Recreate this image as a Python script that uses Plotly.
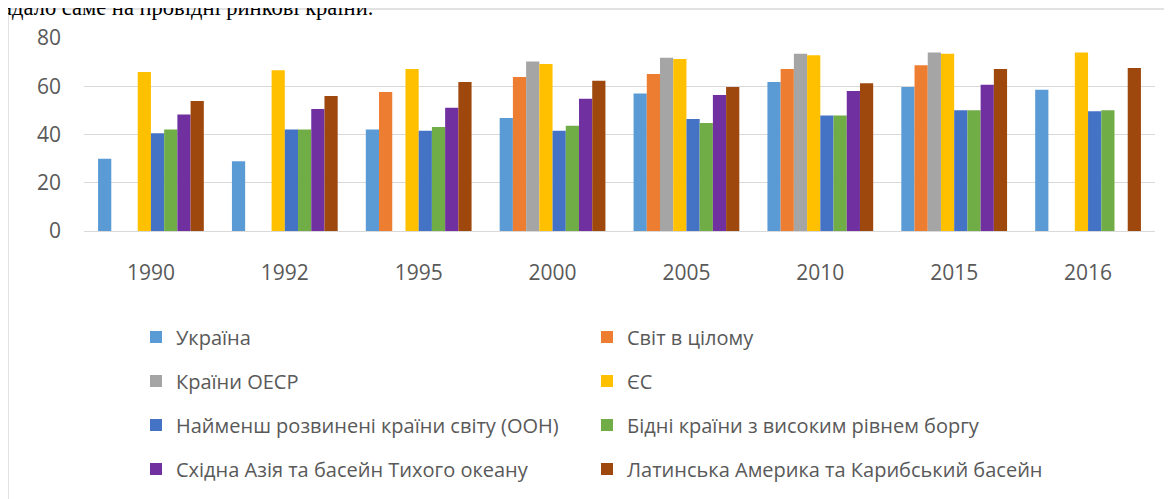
import plotly.graph_objects as go

years = ["1990", "1992", "1995", "2000", "2005", "2010", "2015", "2016"]

ukraine = [30.0, 28.9, 42.1, 46.8, 57.0, 61.8, 59.7, 58.6]
world = [None, None, 57.6, 63.8, 65.1, 67.1, 68.7, None]
oecd = [None, None, None, 70.3, 71.8, 73.5, 74.0, None]
eu = [65.9, 66.6, 67.1, 69.2, 71.3, 72.9, 73.5, 74.0]
ldc = [40.5, 42.1, 41.6, 41.6, 46.4, 47.9, 50.1, 49.6]
hipc = [42.1, 42.1, 43.1, 43.6, 44.8, 47.9, 50.1, 50.1]
east_asia = [48.3, 50.6, 51.1, 54.8, 56.4, 58.0, 60.6, None]
latam = [53.9, 56.0, 61.8, 62.3, 59.7, 61.2, 67.1, 67.6]

series_names = [
    "Україна",
    "Світ в цілому",
    "Країни ОЕСР",
    "ЄС",
    "Найменш розвинені країни світу (ООН)",
    "Бідні країни з високим рівнем боргу",
    "Східна Азія та басейн Тихого океану",
    "Латинська Америка та Карибський басейн",
]
series_values = [ukraine, world, oecd, eu, ldc, hipc, east_asia, latam]
colors = ["#5B9BD5", "#ED7D31", "#A5A5A5", "#FFC000",
          "#4472C4", "#70AD47", "#7030A0", "#9E480E"]

# the page body adds an 8px margin, so layout is set in page pixels minus 8
OFF = 8
W, H = 1172, 499
plot_left, plot_right, plot_top, plot_bottom = 84, 1155, 38, 231
L = plot_left - OFF
T = plot_top - OFF
R = W - (plot_right - OFF)
B = H - (plot_bottom - OFF)
pw = plot_right - plot_left
ph = plot_bottom - plot_top


def px_x(vx):
    return (vx - plot_left) / pw


def px_y(vy):
    return 1 - (vy - plot_top) / ph


legend_ids = ["legend" if i == 0 else f"legend{i + 1}" for i in range(len(series_names))]

fig = go.Figure()
for name, vals, col, lg in zip(series_names, series_values, colors, legend_ids):
    fig.add_trace(go.Bar(
        x=years, y=vals, name=name, legend=lg,
        marker=dict(color=col, line=dict(width=0)),
    ))

legend_font = dict(family="Open Sans, Roboto, sans-serif", size=20, color="#595959")
row_centers = [337, 381, 425, 469]
col_starts = [136, 587]

layout_legends = {}
for i, lg in enumerate(legend_ids):
    row, col = divmod(i, 2)
    layout_legends[lg] = dict(
        orientation="v", xanchor="left", yanchor="middle",
        x=px_x(col_starts[col]), y=px_y(row_centers[row]),
        font=legend_font, bgcolor="rgba(0,0,0,0)", borderwidth=0,
    )

tick_font = dict(family="Open Sans, Roboto, sans-serif", size=21, color="#595959")

fig.update_layout(
    width=W, height=H,
    margin=dict(l=L, r=R, t=T, b=B, pad=0),
    paper_bgcolor="white", plot_bgcolor="white",
    barmode="group", bargap=0.21, bargroupgap=0,
    showlegend=True,
    xaxis=dict(
        type="category", showgrid=False, zeroline=False, showline=False,
        ticks="", ticklabelstandoff=27, tickfont=tick_font,
    ),
    yaxis=dict(
        range=[0, 80], tickvals=[0, 20, 40, 60, 80],
        showgrid=True, gridcolor="#D9D9D9", gridwidth=1.3,
        zeroline=True, zerolinecolor="#D9D9D9", zerolinewidth=1.3,
        showline=False, ticks="", ticklabelstandoff=22, tickfont=tick_font,
    ),
    shapes=[dict(
        type="rect", xref="paper", yref="paper",
        x0=px_x(8), x1=px_x(1200), y0=px_y(540), y1=px_y(9),
        line=dict(color="#D9D9D9", width=1.5), fillcolor="rgba(0,0,0,0)",
        layer="below",
    )],
    annotations=[dict(
        text="падало саме на провідні ринкові країни.",
        xref="paper", yref="paper", x=px_x(-12), y=px_y(7),
        xanchor="left", yanchor="middle", showarrow=False,
        font=dict(family="Liberation Serif, Times New Roman, serif", size=22.5, color="#000000"),
    )],
    **layout_legends,
)

fig.write_html("out.html")
